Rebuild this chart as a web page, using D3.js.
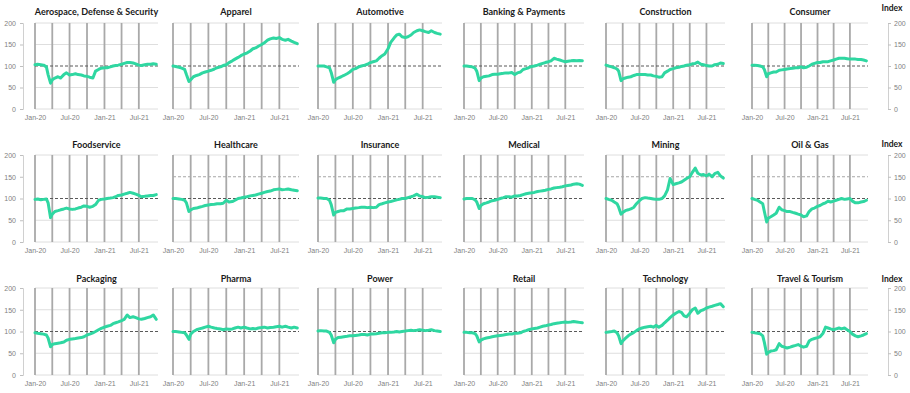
<!DOCTYPE html>
<html>
<head>
<meta charset="utf-8">
<script src="https://cdn.jsdelivr.net/npm/d3@7"></script>
<style>
  body { margin: 0; background: #fff; }
  svg { display: block; font-family: Lato, 'Open Sans', sans-serif; }
</style>
</head>
<body>
<script>
// semi-monthly sample dates (extra points around the March 2020 drop)
const dates = [
  '2020-01-01','2020-01-15','2020-02-01','2020-02-15','2020-03-01','2020-03-10','2020-03-23',
  '2020-04-01','2020-04-15','2020-05-01','2020-05-15','2020-06-01','2020-06-15','2020-07-01',
  '2020-07-15','2020-08-01','2020-08-15','2020-09-01','2020-09-15','2020-10-01','2020-10-15',
  '2020-11-01','2020-11-15','2020-12-01','2020-12-15','2021-01-01','2021-01-15','2021-02-01',
  '2021-02-15','2021-03-01','2021-03-15','2021-04-01','2021-04-15','2021-05-01','2021-05-15',
  '2021-06-01','2021-06-15','2021-07-01','2021-07-15','2021-08-01','2021-08-15','2021-09-01',
  '2021-09-15','2021-10-01'
];

const sectors = [
  'Aerospace, Defense & Security', 'Apparel', 'Automotive', 'Banking & Payments', 'Construction', 'Consumer',
  'Foodservice', 'Healthcare', 'Insurance', 'Medical', 'Mining', 'Oil & Gas',
  'Packaging', 'Pharma', 'Power', 'Retail', 'Technology', 'Travel & Tourism'
];

const aerospace    = [103,104,103,102,98, 80,60,68,72,75, 72,80,84,79,80, 82,80,79,77,76, 74,72,88,92,95, 96,96,98,100,101, 102,104,106,108,108, 107,105,102,101,103, 104,104,105,104];
const apparel      = [100,99,97,95,92, 80,64,68,75,78, 80,84,86,88,90, 93,96,98,101,103, 108,112,116,120,124, 128,130,135,140,142, 146,150,154,160,163, 165,164,166,162,160, 162,158,155,152];
const automotive   = [100,100,100,98,96, 85,62,68,72,75, 78,82,86,92,94, 98,100,102,104,108, 110,112,118,124,128, 140,155,165,172,174, 168,166,168,172,178, 182,184,182,180,178, 182,178,176,174];
const banking      = [100,100,99,98,95, 88,66,72,75,76, 77,80,81,81,82, 83,84,84,85,80, 84,86,92,94,96, 99,100,102,104,106, 108,110,112,118,116, 114,112,110,111,112, 113,112,113,112];
const construction = [102,100,98,96,93, 88,66,70,72,74, 75,78,80,80,80, 80,79,79,77,76, 74,75,84,88,92, 94,96,97,99,100, 102,103,105,106,109, 104,103,101,100,100, 103,104,107,106];
const consumer     = [102,102,101,100,98, 92,75,82,84,86, 86,90,91,92,93, 94,95,96,96,98, 96,97,100,104,106, 108,108,110,110,110, 112,114,116,118,118, 118,117,116,116,116, 115,115,114,112];
const foodservice  = [98,99,97,98,99, 90,56,64,70,72, 74,76,78,76,75, 76,78,80,83,82, 80,82,86,96,98, 99,100,101,102,104, 107,108,110,112,114, 112,110,107,104,105, 106,107,107,109];
const healthcare   = [100,100,99,98,96, 90,70,74,77,78, 80,82,84,85,86, 87,88,88,89,96, 92,93,96,100,101, 103,104,106,107,108, 110,112,114,116,117, 120,121,122,120,121, 122,120,119,118];
const insurance    = [101,101,100,100,96, 86,62,68,70,72, 72,76,76,77,78, 79,80,80,79,80, 79,80,86,88,90, 92,93,95,97,98, 100,100,102,104,106, 110,106,104,102,103, 104,104,103,102];
const medical      = [99,100,100,100,97, 92,77,84,88,90, 92,95,96,98,100, 102,104,104,103,106, 106,107,109,111,112, 113,114,116,117,118, 119,121,122,124,125, 126,127,129,130,131, 133,134,133,130];
const mining       = [100,98,96,92,88, 80,64,68,72,74, 76,80,88,95,100, 102,101,100,99,98, 98,100,106,120,146, 132,134,136,138,142, 146,150,160,170,158, 154,155,152,156,150, 157,160,152,147];
const oilGas       = [100,98,96,92,88, 70,46,55,58,62, 66,80,74,72,70, 70,68,66,64,62, 58,60,70,76,78, 82,84,88,90,94, 92,94,96,98,100, 98,99,100,94,90, 90,92,93,96];
const packaging    = [97,96,95,94,92, 85,65,70,72,73, 74,76,80,82,83, 84,85,86,88,92, 94,97,100,104,107, 110,112,114,118,120, 122,125,128,138,132, 134,132,129,128,130, 132,134,138,128];
const pharma       = [100,100,99,98,97, 92,82,94,100,104, 106,108,110,112,110, 108,107,106,104,106, 105,106,108,110,108, 110,108,106,107,106, 108,109,110,108,109, 110,111,112,110,112, 110,108,110,108];
const power        = [101,102,101,101,98, 92,74,82,86,87, 88,89,90,90,91, 92,93,93,92,94, 94,95,96,97,97, 98,98,99,100,99, 100,101,102,103,102, 103,104,103,102,103, 104,102,101,100];
const retail       = [98,98,97,97,95, 90,76,80,83,85, 86,88,89,90,91, 92,93,94,94,96, 96,97,100,102,104, 106,107,108,110,112, 113,115,116,118,119, 120,121,122,121,122, 123,122,121,120];
const technology   = [98,99,100,101,97, 90,72,78,84,90, 94,98,102,106,108, 110,111,112,110,114, 110,114,120,126,132, 138,142,146,144,136, 134,142,150,154,142, 148,150,154,156,158, 160,162,164,157];
const travel       = [98,97,96,95,90, 75,48,52,55,56, 58,72,66,64,62, 64,66,68,70,66, 64,66,78,82,84, 86,88,96,110,108, 106,104,106,108,106, 108,104,100,94,90, 88,90,92,95];

const seriesValues = [aerospace, apparel, automotive, banking, construction, consumer,
  foodservice, healthcare, insurance, medical, mining, oilGas,
  packaging, pharma, power, retail, technology, travel];

const yTicks = [0, 50, 100, 150, 200];
const xTickDates = ['2020-01-01', '2020-07-01', '2021-01-01', '2021-07-01'];
const xTickLabels = ['Jan-20', 'Jul-20', 'Jan-21', 'Jul-21'];
const axisTitle = 'Index';

// layout
const colX = [35, 173, 318, 464, 606, 752];
const colW = [123, 126, 124, 120, 119, 116];
const rowTop = [23, 155, 288];
const rowBot = [109, 242, 375];
const titleY = [12.5, 145.5, 279.5];
const indexY = [9, 145, 280];
const lineColor = '#2fd7a1';

const parse = d3.utcParse('%Y-%m-%d');
const dateObjs = dates.map(parse);
const domainX = [parse('2020-01-01'), parse('2021-10-10')];
const gridDates = d3.utcMonth.every(3).range(parse('2020-01-01'), parse('2021-10-01'));

const svg = d3.select('body').append('svg')
  .attr('width', 910)
  .attr('height', 393);

sectors.forEach((name, i) => {
  const row = Math.floor(i / 6), col = i % 6;
  const x = d3.scaleUtc().domain(domainX).range([colX[col], colX[col] + colW[col]]);
  const y = d3.scaleLinear().domain([0, 200]).range([rowBot[row], rowTop[row]]);
  const g = svg.append('g').attr('class', 'panel');

  // horizontal gridlines (100 drawn later as dashed)
  g.append('g')
    .selectAll('line')
    .data(yTicks.filter(v => v !== 100))
    .join('line')
    .attr('x1', x.range()[0]).attr('x2', x.range()[1])
    .attr('y1', d => y(d)).attr('y2', d => y(d))
    .attr('stroke', d => (row === 1 && d === 150) ? (col === 0 ? 'none' : '#a6a6a6') : '#dedede')
    .attr('stroke-dasharray', d => (row === 1 && d === 150) ? '3,2' : null)
    .attr('stroke-width', 1);

  // vertical quarterly gridlines
  g.append('g')
    .selectAll('line')
    .data(gridDates)
    .join('line')
    .attr('x1', d => x(d)).attr('x2', d => x(d))
    .attr('y1', y(0)).attr('y2', y(200))
    .attr('stroke', '#a9a9a9')
    .attr('stroke-width', 1.8);

  // reference line at 100
  g.append('line')
    .attr('x1', x.range()[0]).attr('x2', x.range()[1])
    .attr('y1', y(100)).attr('y2', y(100))
    .attr('stroke', '#595959')
    .attr('stroke-width', 1)
    .attr('stroke-dasharray', '3,2');

  // x axis labels
  g.append('g')
    .attr('transform', `translate(0,${rowBot[row] + 6})`)
    .call(d3.axisBottom(x)
      .tickValues(xTickDates.map(parse))
      .tickFormat((d, k) => xTickLabels[k])
      .tickSize(0)
      .tickPadding(0))
    .call(a => a.select('.domain').remove())
    .selectAll('text')
    .attr('fill', '#7f7f7f')
    .attr('font-size', 7);

  // series line
  const line = d3.line()
    .x((d, k) => x(dateObjs[k]))
    .y(d => y(d));

  g.append('path')
    .datum(seriesValues[i])
    .attr('fill', 'none')
    .attr('stroke', lineColor)
    .attr('stroke-width', 3)
    .attr('stroke-linejoin', 'round')
    .attr('stroke-linecap', 'round')
    .attr('d', line);

  // title
  g.append('text')
    .attr('x', colX[col] + colW[col] / 2)
    .attr('y', titleY[row])
    .attr('text-anchor', 'middle')
    .attr('dominant-baseline', 'middle')
    .attr('font-weight', 'bold')
    .attr('font-size', 9)
    .attr('fill', '#1a1a1a')
    .text(name);
});

// left and right y axes per row
[0, 1, 2].forEach(row => {
  const y = d3.scaleLinear().domain([0, 200]).range([rowBot[row], rowTop[row]]);

  const left = svg.append('g')
    .attr('transform', 'translate(23,0)')
    .call(d3.axisLeft(y).tickValues(yTicks).tickSize(3).tickPadding(4));
  left.select('.domain').attr('stroke', '#d0d0d0');
  left.selectAll('line').attr('stroke', '#bfbfbf');
  left.selectAll('text').attr('fill', '#7f7f7f').attr('font-size', 7);

  const right = svg.append('g')
    .attr('transform', 'translate(888,0)')
    .call(d3.axisRight(y).tickValues(yTicks).tickSize(3).tickPadding(3));
  right.select('.domain').attr('stroke', '#d0d0d0');
  right.selectAll('line').attr('stroke', '#bfbfbf');
  right.selectAll('text').attr('fill', '#7f7f7f').attr('font-size', 7);

  svg.append('text')
    .attr('x', 892)
    .attr('y', indexY[row])
    .attr('text-anchor', 'middle')
    .attr('dominant-baseline', 'middle')
    .attr('font-weight', 'bold')
    .attr('font-size', 8.5)
    .attr('fill', '#1a1a1a')
    .text(axisTitle);
});
</script>
</body>
</html>
